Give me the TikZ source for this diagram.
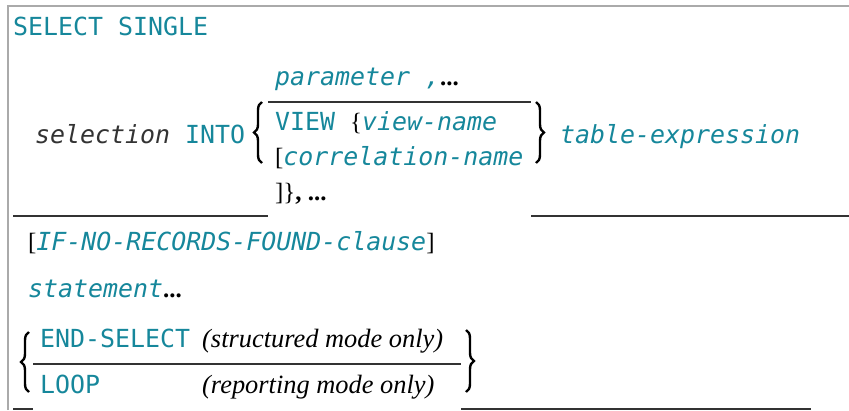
\documentclass[tikz,border=0pt]{standalone}
\usepackage{fontspec}
\usetikzlibrary{decorations.pathreplacing}
\setmainfont{Liberation Serif}
\newfontfamily\monof{DejaVu Sans Mono}
\definecolor{teal1}{RGB}{22,135,155}
\definecolor{gray1}{RGB}{51,51,51}
\definecolor{frame1}{RGB}{170,170,170}
\newcommand{\kw}[1]{{\monof\color{teal1}#1}}
\newcommand{\var}[1]{{\monof\itshape\color{teal1}#1}}
\newcommand{\note}[1]{{\fontsize{26.4}{30}\selectfont\itshape #1}}
\newcommand{\bdots}{{\bfseries...}}
\tikzset{
  txt/.style={anchor=base west, inner sep=0pt, font=\fontsize{24.9}{30}\selectfont},
  rulel/.style={line width=1.3pt, draw=gray1},
  bracel/.style={decorate, decoration={brace, amplitude=8pt}, line width=2.4pt, draw=black},
  framel/.style={draw=frame1, line width=2pt}
}
\begin{document}
\begin{tikzpicture}[x=1pt,y=-1pt]
\useasboundingbox (0,0) rectangle (849,410);
% frame
\coordinate (f1) at (7.5,410);
\coordinate (f2) at (7.5,5.5);
\coordinate (f3) at (849,5.5);
\draw[framel] (f1) -- (f2) -- (f3);
% line 1
\node[txt] (sel) at (13,35) {\kw{SELECT SINGLE}};
% parameter
\node[txt] (par) at (275,85) {\var{parameter ,}\bdots};
\coordinate (r1a) at (268,102);
\coordinate (r1b) at (531,102);
\draw[rulel] (r1a) -- (r1b);
\node[txt] (selinto) at (35,143) {{\monof{\itshape\color{gray1}selection} \color{teal1}INTO}};
\coordinate (lb1b) at (262,163);
\coordinate (lb1t) at (262,102);
\draw[bracel] (lb1b) -- (lb1t);
\node[txt] (view) at (275,130) {{\monof\color{teal1}VIEW }\{\var{view-name}};
\node[txt] (corr) at (275,165) {[\var{correlation-name}};
\node[txt] (close) at (275,200) {]\}\textbf{, ...}};
\coordinate (rb1t) at (536,102);
\coordinate (rb1b) at (536,163);
\draw[bracel] (rb1t) -- (rb1b);
\node[txt] (tabexp) at (560,143) {\var{table-expression}};
% rules under first block
\coordinate (r2a) at (13,216);
\coordinate (r2b) at (268,216);
\coordinate (r3a) at (531,216);
\coordinate (r3b) at (849,216);
\draw[rulel] (r2a) -- (r2b);
\draw[rulel] (r3a) -- (r3b);
% IF clause
\node[txt] (ifc) at (28,250) {[\var{IF-NO-RECORDS-FOUND-clause}]};
\node[txt] (stmt) at (28,297) {\var{statement}\bdots};
% end block
\coordinate (lb2b) at (29,392);
\coordinate (lb2t) at (29,332);
\draw[bracel] (lb2b) -- (lb2t);
\node[txt] (endsel) at (40,347) {\kw{END-SELECT}};
\node[txt] (struct) at (202,347) {\note{(structured mode only)}};
\coordinate (r4a) at (33,364);
\coordinate (r4b) at (461,364);
\draw[rulel] (r4a) -- (r4b);
\node[txt] (loop) at (40,393) {\kw{LOOP}};
\node[txt] (rep) at (202,393) {\note{(reporting mode only)}};
\coordinate (rb2t) at (466,330);
\coordinate (rb2b) at (466,392);
\draw[bracel] (rb2t) -- (rb2b);
% bottom rules
\coordinate (r5a) at (13,409);
\coordinate (r5b) at (33,409);
\coordinate (r6a) at (461,409);
\coordinate (r6b) at (811,409);
\draw[rulel] (r5a) -- (r5b);
\draw[rulel] (r6a) -- (r6b);
\end{tikzpicture}
\end{document}
